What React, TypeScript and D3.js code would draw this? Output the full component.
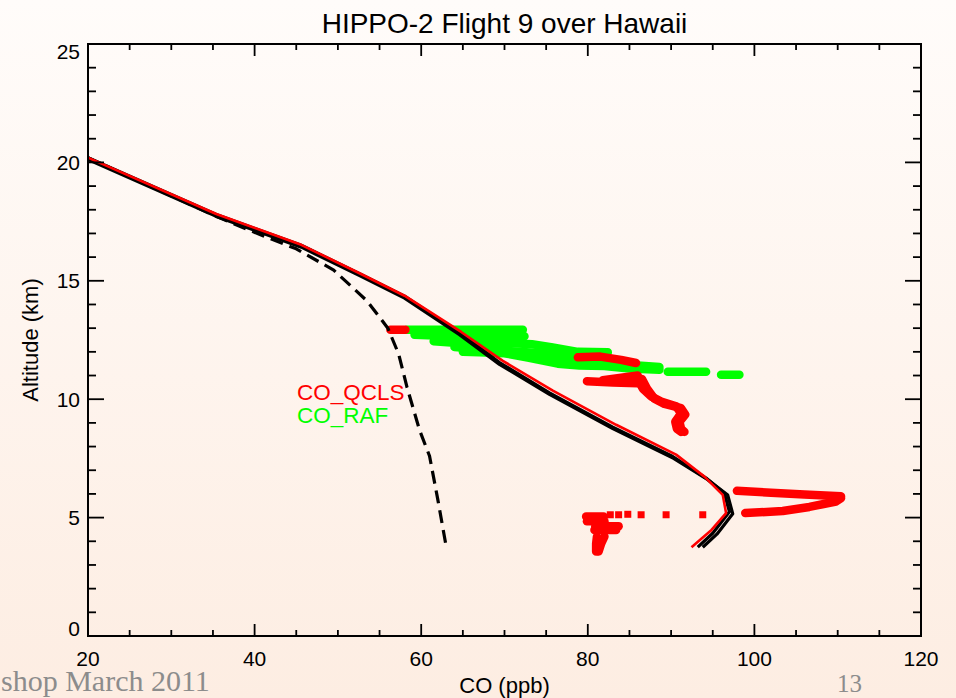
import React from 'react';
import * as d3 from 'd3';

type Pt = [number, number]; // [CO ppb, altitude km]

const xMajor = [20, 40, 60, 80, 100, 120];
const yMajor = [0, 5, 10, 15, 20, 25];

// model profiles
const modelBlackA: Pt[] = [
  [20.0, 20.2], [27.4, 19.05], [35.4, 17.8], [45.6, 16.5], [52.6, 15.3], [58.0, 14.35],
  [64.6, 12.8], [69.4, 11.55], [75.4, 10.27], [83.0, 8.82], [90.2, 7.58], [94.2, 6.67],
  [96.4, 6.03], [97.0, 5.25], [95.0, 4.34], [93.2, 3.75],
];
const modelBlackB: Pt[] = [
  [20.0, 20.12], [35.4, 17.72], [45.6, 16.42], [52.6, 15.22], [58.0, 14.27], [64.6, 12.72],
  [69.4, 11.47], [75.4, 10.2], [83.0, 8.76], [90.3, 7.5], [94.4, 6.6], [96.8, 5.95],
  [97.4, 5.16], [95.5, 4.3], [93.8, 3.75],
];
const modelRed: Pt[] = [
  [20.0, 20.2], [35.4, 17.82], [45.6, 16.52], [52.6, 15.32], [58.0, 14.37], [64.8, 12.84],
  [69.8, 11.62], [75.8, 10.36], [83.4, 8.92], [90.6, 7.66], [94.0, 6.73], [96.2, 5.96],
  [96.6, 5.19], [94.85, 4.48], [92.45, 3.75],
];
const apriori: Pt[] = [
  [20.0, 20.2], [27.4, 19.0], [35.4, 17.72], [41.0, 16.9], [45.0, 16.35], [49.5, 15.45],
  [53.5, 14.15], [56.0, 13.0], [57.3, 11.9], [58.3, 10.5], [59.8, 8.7], [61.0, 7.6],
  [62.0, 5.75], [63.0, 3.78],
];

// CO_QCLS samples along flight legs
const qclsLegs: Pt[][] = [
  [[56.3, 12.93], [58.1, 12.93]],
  [[78.8, 11.77], [81.5, 11.8], [84.0, 11.66], [85.8, 11.53]],
  [[79.9, 10.76], [83.0, 10.71], [86.0, 10.67]],
  [[81.8, 10.8], [86.0, 11.0]],
  [[86.0, 10.85], [86.6, 10.45], [87.6, 10.12], [88.8, 9.9], [90.6, 9.7], [91.2, 9.4], [90.5, 9.05], [90.7, 8.75], [91.2, 8.62]],
  [[86.5, 10.85], [87.1, 10.45], [88.0, 10.02], [89.2, 9.8], [91.2, 9.62], [91.7, 9.35], [91.0, 9.05], [91.2, 8.75], [91.6, 8.62]],
  [[97.9, 6.13], [102.0, 6.05], [106.0, 5.98], [110.4, 5.9]],
  [[98.9, 5.19], [103.4, 5.28], [106.6, 5.45], [109.8, 5.68], [110.4, 5.82]],
  [[79.8, 5.05], [81.9, 5.05]],
  [[79.9, 4.85], [82.0, 4.85]],
  [[80.9, 4.64], [83.7, 4.64]],
  [[80.8, 4.48], [83.4, 4.48]],
  [[82.0, 4.2], [81.6, 3.9], [81.3, 3.57]],
  [[81.1, 4.2], [81.0, 3.9], [81.0, 3.57]],
];
const qclsSpots: Pt[] = [
  [82.7, 5.12], [83.7, 5.12], [84.8, 5.14], [86.4, 5.12], [89.4, 5.12], [93.8, 5.12],
];

// CO_RAF samples along flight legs
const rafLegs: Pt[][] = [
  [[58.3, 12.93], [72.2, 12.93]],
  [[59.2, 12.72], [64.0, 12.66], [68.0, 12.66], [72.4, 12.66]],
  [[61.5, 12.45], [64.0, 12.38], [68.0, 12.36], [71.0, 12.36], [73.3, 12.32], [75.6, 12.2], [78.8, 12.0], [82.4, 11.98]],
  [[64.0, 12.2], [67.0, 12.12], [70.0, 12.05], [74.0, 11.95], [77.0, 11.8], [80.0, 11.7], [82.5, 11.65]],
  [[65.0, 12.0], [67.0, 11.98], [70.0, 11.94], [72.8, 11.76], [76.4, 11.5], [79.0, 11.42], [82.0, 11.4], [85.0, 11.3], [88.6, 11.24]],
  [[82.6, 11.5], [86.0, 11.42], [88.6, 11.36]],
  [[89.6, 11.16], [94.2, 11.16]],
  [[96.0, 11.03], [98.2, 11.03]],
];

export default function App() {
  const W = 956, H = 698;
  const x = d3.scaleLinear().domain([20, 120]).range([88, 921]);
  const y = d3.scaleLinear().domain([0, 25]).range([636, 44]);
  const line = d3.line<Pt>().x(d => x(d[0])).y(d => y(d[1]));
  const xMinor = d3.range(20, 121, 5).filter(v => !xMajor.includes(v));
  const yMinor = d3.range(0, 26, 1).filter(v => !yMajor.includes(v));
  const [x0, x1] = x.range();
  const [y0, y1] = y.range();
  const helv = 'Liberation Sans, Arial, Helvetica, sans-serif';

  const yLabelBase = (v: number) => Math.min(Math.max(y(v) + 7.5, y1 + 15), y0);

  return (
    <svg width={W} height={H} style={{ position: 'fixed', left: 0, top: 0 }} fontFamily={helv}>
      <defs>
        <linearGradient id="bg" x1="0" y1="0" x2="0" y2="1">
          <stop offset="0" stopColor="#fffcfa" />
          <stop offset="1" stopColor="#fdede2" />
        </linearGradient>
      </defs>
      <rect width={W} height={H} fill="url(#bg)" />

      <text x={(x0 + x1) / 2} y={33} textAnchor="middle" fontSize={28}>HIPPO-2 Flight 9 over Hawaii</text>

      {/* legend */}
      <text x={297} y={400} fontSize={22.5} fill="#ff0000">CO_QCLS</text>
      <text x={297} y={423} fontSize={22.5} fill="#00ff00">CO_RAF</text>

      {/* scatter */}
      <g fill="none" strokeWidth={8.5} strokeLinecap="round" strokeLinejoin="round">
        {rafLegs.map((leg, i) => <path key={'g' + i} d={line(leg) || ''} stroke="#00ff00" />)}
        {qclsLegs.map((leg, i) => <path key={'r' + i} d={line(leg) || ''} stroke="#ff0000" />)}
      </g>
      {qclsSpots.map((d, i) => (
        <rect key={'s' + i} x={x(d[0]) - 3.5} y={y(d[1]) - 3.5} width={7} height={7} fill="#ff0000" />
      ))}

      {/* profiles */}
      <g fill="none" strokeLinejoin="round">
        <path d={line(apriori) || ''} stroke="#000" strokeWidth={3.2} strokeDasharray="13 7" />
        <path d={line(modelBlackB) || ''} stroke="#000" strokeWidth={3.2} />
        <path d={line(modelBlackA) || ''} stroke="#000" strokeWidth={3.2} />
        <path d={line(modelRed) || ''} stroke="#ff0000" strokeWidth={2.6} />
      </g>

      {/* frame and ticks */}
      <rect x={x0} y={y1} width={x1 - x0} height={y0 - y1} fill="none" stroke="#000" strokeWidth={2} />
      <g stroke="#000" strokeWidth={1.8}>
        {xMajor.map(v => (
          <g key={'xm' + v}>
            <line x1={x(v)} x2={x(v)} y1={y0} y2={y0 - 12} />
            <line x1={x(v)} x2={x(v)} y1={y1} y2={y1 + 12} />
          </g>
        ))}
        {xMinor.map(v => (
          <g key={'xn' + v}>
            <line x1={x(v)} x2={x(v)} y1={y0} y2={y0 - 6} />
            <line x1={x(v)} x2={x(v)} y1={y1} y2={y1 + 6} />
          </g>
        ))}
        {yMajor.map(v => (
          <g key={'ym' + v}>
            <line x1={x0} x2={x0 + 16} y1={y(v)} y2={y(v)} />
            <line x1={x1} x2={x1 - 16} y1={y(v)} y2={y(v)} />
          </g>
        ))}
        {yMinor.map(v => (
          <g key={'yn' + v}>
            <line x1={x0} x2={x0 + 8} y1={y(v)} y2={y(v)} />
            <line x1={x1} x2={x1 - 8} y1={y(v)} y2={y(v)} />
          </g>
        ))}
      </g>

      <g fontSize={21}>
        {xMajor.map(v => (
          <text key={'xl' + v} x={x(v)} y={666} textAnchor="middle">{v}</text>
        ))}
        {yMajor.map(v => (
          <text key={'yl' + v} x={80} y={yLabelBase(v)} textAnchor="end">{v}</text>
        ))}
      </g>
      <text x={(x0 + x1) / 2} y={693} textAnchor="middle" fontSize={22}>CO (ppb)</text>
      <text transform={`translate(38,${(y0 + y1) / 2}) rotate(-90)`} textAnchor="middle" fontSize={22}>Altitude (km)</text>

      {/* slide footer */}
      <g fontFamily="Liberation Serif, DejaVu Serif, serif" fill="#8c8c8c">
        <text x={1} y={691} fontSize={30}>shop March 2011</text>
        <text x={837} y={692} fontSize={25}>13</text>
      </g>
    </svg>
  );
}
